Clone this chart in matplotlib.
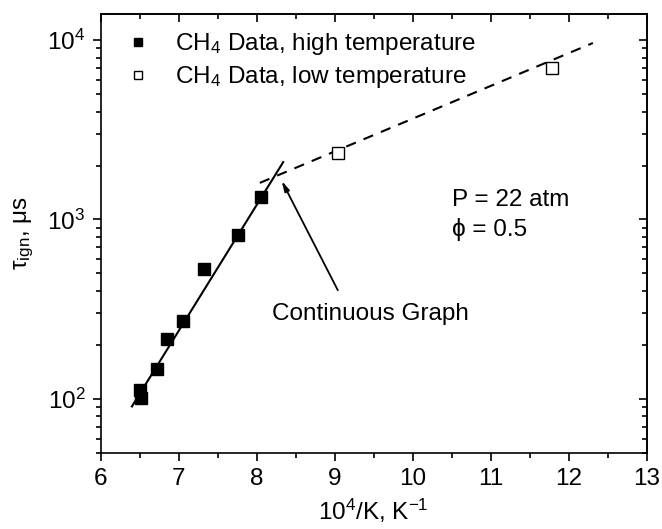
import matplotlib
matplotlib.use("Agg")
import matplotlib.pyplot as plt
from matplotlib.ticker import MultipleLocator, LogLocator, NullFormatter, FixedLocator

plt.rcParams['font.family'] = ['Liberation Sans', 'DejaVu Sans']
plt.rcParams['mathtext.fontset'] = 'custom'
plt.rcParams['mathtext.rm'] = 'Liberation Sans'
plt.rcParams['mathtext.it'] = 'Liberation Sans:italic'
plt.rcParams['mathtext.bf'] = 'Liberation Sans:bold'

# Data
hi_x = [6.50, 6.52, 6.72, 6.85, 7.06, 7.32, 7.76, 8.05]
hi_y = [112, 101, 146, 215, 272, 530, 818, 1330]
lo_x = [9.04, 11.79]
lo_y = [2360, 7000]
fit_hi_x = [6.40, 8.34]
fit_hi_y = [90.6, 2090]
fit_lo_x = [8.04, 12.31]
fit_lo_y = [1600, 9650]

FS = 17.5

fig = plt.figure(figsize=(6.62, 5.29), dpi=100)
ax = fig.add_axes([0.1521, 0.1442, 0.8248, 0.8293])

ax.plot(fit_hi_x, fit_hi_y, color='black', lw=1.5)
ax.plot(fit_lo_x, fit_lo_y, color='black', lw=1.5, dashes=(5, 4))
ax.plot(hi_x, hi_y, 's', color='black', ms=9, mec='black', ls='none',
        label='CH$_4$ Data, high temperature')
ax.plot(lo_x, lo_y, 's', mfc='white', mec='black', mew=1.0, ms=8.5, ls='none',
        label='CH$_4$ Data, low temperature')

ax.set_yscale('log')
ax.set_xlim(6, 13)
ax.set_ylim(50, 14000)
ax.xaxis.set_major_locator(MultipleLocator(1))
ax.xaxis.set_minor_locator(MultipleLocator(0.5))
ax.yaxis.set_major_locator(FixedLocator([100, 1000, 10000]))
ax.yaxis.set_minor_locator(LogLocator(base=10, subs=range(2, 10)))
ax.yaxis.set_minor_formatter(NullFormatter())

for s in ax.spines.values():
    s.set_linewidth(1.2)
ax.tick_params(which='major', direction='out', length=6, width=1.2, labelsize=FS, pad=5)
ax.tick_params(which='minor', direction='out', length=3.5, width=1.2)

secx = ax.secondary_xaxis('top')
secx.xaxis.set_major_locator(MultipleLocator(1))
secx.xaxis.set_minor_locator(MultipleLocator(0.5))
secx.tick_params(which='major', direction='in', length=6, width=1.2, labeltop=False)
secx.tick_params(which='minor', direction='in', length=3.5, width=1.2)
secx.spines['top'].set_linewidth(1.2)

secy = ax.secondary_yaxis('right')
secy.yaxis.set_major_locator(FixedLocator([100, 1000, 10000]))
secy.yaxis.set_minor_locator(LogLocator(base=10, subs=range(2, 10)))
secy.yaxis.set_minor_formatter(NullFormatter())
secy.tick_params(which='major', direction='in', length=6, width=1.2, labelright=False)
secy.tick_params(which='minor', direction='in', length=3.5, width=1.2)
secy.spines['right'].set_linewidth(1.2)

ax.set_xlabel('$\\mathregular{10^4}$/K, $\\mathregular{K^{-1}}$', fontsize=FS, labelpad=5)
ax.set_ylabel('$\\mathregular{τ_{ign}}$, μs', fontsize=FS, labelpad=8)

leg = ax.legend(loc='upper left', bbox_to_anchor=(0.02, 1.0), frameon=False,
                fontsize=FS, markerscale=0.7, handlelength=0.8,
                handletextpad=1.1, labelspacing=0.3, borderaxespad=0.3)

ax.annotate('', xy=(8.32, 1644), xytext=(9.04, 403),
            arrowprops=dict(arrowstyle='-|>,head_length=0.6,head_width=0.15',
                            color='black', lw=1.3, shrinkA=0, shrinkB=0))
ax.text(8.2, 274, 'Continuous Graph', fontsize=FS, ha='left', va='baseline')
ax.text(10.5, 1193, 'P = 22 atm', fontsize=FS, ha='left', va='baseline')
ax.text(10.5, 807, 'ϕ = 0.5', fontsize=FS, ha='left', va='baseline')

fig.savefig('out.png', dpi=100)
